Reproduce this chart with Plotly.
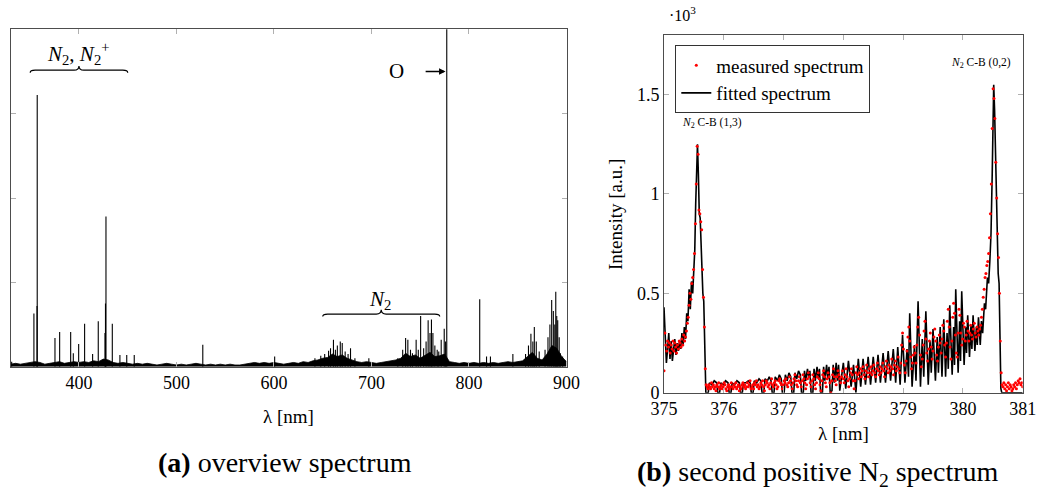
import numpy as np
import plotly.graph_objects as go

# ---- (a) overview spectrum ----
# noise floor, read every 5 nm
base_wl = list(range(330, 901, 5))
base_int = [0.03, 0.04, 0.03, 0.04, 0.05, 0.06, 0.05, 0.03, 0.04, 0.05,
            0.06, 0.04, 0.05, 0.06, 0.05, 0.06, 0.05, 0.07, 0.06, 0.09,
            0.08, 0.05, 0.04, 0.05, 0.04, 0.03, 0.04, 0.03, 0.04, 0.03,
            0.02, 0.03, 0.04, 0.03, 0.02, 0.03, 0.02, 0.03, 0.04, 0.03,
            0.02, 0.03, 0.02, 0.03, 0.02, 0.03, 0.02, 0.02, 0.03, 0.04,
            0.05, 0.04, 0.05, 0.04, 0.05, 0.04, 0.03, 0.04, 0.05, 0.04,
            0.06, 0.05, 0.07, 0.08, 0.10, 0.11, 0.15, 0.12, 0.14, 0.10,
            0.08, 0.06, 0.05, 0.06, 0.05, 0.04, 0.05, 0.06, 0.07, 0.08,
            0.10, 0.16, 0.12, 0.14, 0.10, 0.14, 0.17, 0.12, 0.13, 0.15,
            0.06, 0.05, 0.04, 0.05, 0.04, 0.05, 0.04, 0.05, 0.04, 0.05,
            0.04, 0.05, 0.06, 0.05, 0.06, 0.07, 0.12, 0.17, 0.10, 0.08,
            0.15, 0.25, 0.22, 0.12, 0.06]

# emission lines (nm) and their heights
line_wl = [331.0, 353.8, 357.0, 357.2, 375.4, 380.2, 391.5, 394.2, 399.7, 405.8,
           414.0, 419.8, 426.7, 427.2, 427.7, 434.2, 442.0, 449.0, 456.7, 527.0,
           600.7, 642.0, 648.0, 652.0, 656.0, 658.0, 661.0, 663.0, 665.0, 668.0,
           670.0, 673.0, 676.0, 678.5, 683.0, 697.3, 727.0, 732.0, 735.0, 737.3,
           740.0, 742.0, 745.8, 748.0, 750.4, 753.5, 756.0, 758.1, 760.0, 761.5,
           763.0, 765.0, 767.4, 769.0, 771.5, 774.6, 776.0, 777.2, 811.0, 818.0,
           822.0, 845.0, 858.0, 861.0, 863.5, 865.5, 867.0, 869.0, 872.0, 878.0,
           881.0, 883.0, 884.8, 886.5, 888.0, 889.0, 890.0, 891.0, 892.5, 893.7,
           896.0]
line_int = [0.06, 0.63, 0.72, 3.22, 0.34, 0.41, 0.41, 0.16, 0.27, 0.51,
            0.15, 0.54, 0.40, 0.75, 1.78, 0.51, 0.14, 0.14, 0.14, 0.26,
            0.12, 0.10, 0.13, 0.15, 0.19, 0.22, 0.32, 0.20, 0.25, 0.30,
            0.28, 0.18, 0.15, 0.22, 0.10, 0.10, 0.10, 0.20, 0.34, 0.32,
            0.20, 0.16, 0.32, 0.20, 0.60, 0.22, 0.30, 0.55, 0.40, 0.56,
            0.40, 0.25, 0.20, 0.18, 0.32, 0.45, 0.30, 10.0, 0.80, 0.12,
            0.12, 0.15, 0.15, 0.25, 0.39, 0.30, 0.47, 0.30, 0.18, 0.20,
            0.35, 0.50, 0.79, 0.66, 0.50, 0.89, 0.60, 0.55, 0.35, 0.16,
            0.12]

# braces: (start nm, end nm, height)
braces = [(350, 450, 3.515), (650, 770, 0.624)]

# ---- (b) second positive N2 ----
fit_wl = [375.000, 375.020, 375.040, 375.060, 375.080, 375.100, 375.120, 375.140, 375.160, 375.180,
          375.200, 375.220, 375.240, 375.260, 375.280, 375.300, 375.320, 375.340, 375.360, 375.380,
          375.400, 375.420, 375.440, 375.460, 375.480, 375.500, 375.515, 375.530, 375.545, 375.560,
          375.575, 375.590, 375.605, 375.620, 375.635, 375.650, 375.665, 375.680, 375.695,
          375.70, 375.74, 375.76, 375.80, 375.84, 375.88,
          375.90, 375.93, 375.95, 375.99, 376.03, 376.07,
          376.09, 376.12, 376.14, 376.18, 376.22, 376.26,
          376.28, 376.31, 376.33, 376.37, 376.41, 376.44,
          376.46, 376.49, 376.51, 376.55, 376.59, 376.62,
          376.64, 376.67, 376.69, 376.73, 376.76, 376.79,
          376.81, 376.84, 376.86, 376.90, 376.93, 376.96,
          376.98, 377.01, 377.03, 377.06, 377.09, 377.12,
          377.14, 377.17, 377.19, 377.22, 377.25, 377.28,
          377.30, 377.33, 377.35, 377.37, 377.40, 377.42, 377.44,
          377.46, 377.49, 377.51, 377.53, 377.56, 377.58, 377.60,
          377.62, 377.65, 377.67, 377.69, 377.72, 377.74, 377.76,
          377.78, 377.81, 377.83, 377.85, 377.88, 377.90, 377.92, 377.94,
          378.000, 378.040, 378.085, 378.130, 378.170, 378.210, 378.250, 378.290, 378.330, 378.370,
          378.415, 378.455, 378.500, 378.540, 378.580, 378.620, 378.665, 378.705, 378.750, 378.790,
          378.835, 378.875, 378.910, 378.950, 378.990, 379.030, 379.065, 379.090, 379.110, 379.150,
          379.190, 379.215, 379.250, 379.290, 379.320, 379.345, 379.380, 379.420, 379.450, 379.470,
          379.500, 379.540, 379.570, 379.590, 379.620, 379.650, 379.680, 379.710, 379.735, 379.755,
          379.780, 379.820, 379.845, 379.860, 379.880, 379.920, 379.945, 379.960, 379.980, 380.020,
          380.045, 380.060, 380.080, 380.110, 380.135, 380.150, 380.170, 380.200, 380.225, 380.240,
          380.260, 380.290, 380.310, 380.330, 380.360, 380.380, 380.410, 380.430, 380.450, 380.470,
          380.490, 380.505, 380.515, 380.530, 380.545, 380.560, 380.575, 380.590, 380.605, 380.620,
          380.635, 380.650, 381.000]
fit_int = [0.43, 0.30, 0.15, 0.22, 0.30, 0.17, 0.26, 0.16, 0.24, 0.27,
           0.19, 0.25, 0.21, 0.26, 0.22, 0.30, 0.24, 0.33, 0.27, 0.40,
           0.36, 0.52, 0.42, 0.56, 0.50, 0.62, 0.72, 0.95, 1.15, 1.25,
           1.10, 0.90, 0.88, 0.75, 0.55, 0.50, 0.46, 0.20, 0.00,
           0.00, 0.00, 0.05, 0.04, 0.06, 0.05,
           0.00, 0.00, 0.05, 0.04, 0.06, 0.05,
           0.00, 0.00, 0.05, 0.04, 0.06, 0.05,
           0.00, 0.00, 0.05, 0.05, 0.06, 0.05,
           0.00, 0.00, 0.06, 0.05, 0.07, 0.06,
           0.00, 0.00, 0.07, 0.06, 0.08, 0.06,
           0.00, 0.00, 0.08, 0.06, 0.09, 0.07,
           0.00, 0.00, 0.09, 0.06, 0.10, 0.08,
           0.00, 0.00, 0.10, 0.07, 0.11, 0.09,
           0.00, 0.00, 0.11, 0.06, 0.12, 0.08, 0.11,
           0.00, 0.00, 0.12, 0.06, 0.13, 0.07, 0.12,
           0.00, 0.00, 0.13, 0.06, 0.14, 0.07, 0.13,
           0.00, 0.01, 0.14, 0.05, 0.15, 0.06, 0.14, 0.01,
           0.15, 0.02, 0.16, 0.03, 0.14, 0.00, 0.17, 0.03, 0.17, 0.04,
           0.18, 0.04, 0.18, 0.05, 0.19, 0.05, 0.20, 0.05, 0.21, 0.06,
           0.22, 0.05, 0.23, 0.04, 0.29, 0.05, 0.22, 0.08, 0.40, 0.03,
           0.24, 0.06, 0.46, 0.03, 0.27, 0.08, 0.41, 0.04, 0.26, 0.10,
           0.32, 0.06, 0.28, 0.10, 0.33, 0.08, 0.37, 0.08, 0.30, 0.12,
           0.44, 0.09, 0.33, 0.14, 0.52, 0.10, 0.36, 0.16, 0.51, 0.14,
           0.33, 0.20, 0.39, 0.18, 0.34, 0.22, 0.39, 0.21, 0.33, 0.24,
           0.38, 0.24, 0.36, 0.30, 0.45, 0.42, 0.58, 0.55, 0.66, 0.80,
           1.10, 1.45, 1.55, 1.42, 1.20, 0.95, 0.80, 0.60, 0.55, 0.25,
           0.02, 0.00, 0.00]

# measured points, one every 0.015 nm starting at 375.000 nm
meas_start = 375.0
meas_step = 0.015
meas_int = [0.11, 0.30, 0.24, 0.21, 0.26, 0.23, 0.25, 0.20, 0.24, 0.22, 0.26, 0.21, 0.25, 0.23, 0.20,
            0.24, 0.22, 0.26, 0.25, 0.23, 0.27, 0.24, 0.29, 0.26, 0.28, 0.31, 0.35,
            0.38, 0.44, 0.50, 0.47, 0.55, 0.58, 0.62, 0.70, 0.85, 1.05, 1.24, 1.20, 0.92, 0.90,
            0.86, 0.82, 0.62, 0.48, 0.33, 0.12, 0.04,
            0.03, 0.02, 0.04, 0.03, 0.02, 0.05, 0.03, 0.04, 0.02, 0.03, 0.01, 0.04, 0.03, 0.05, 0.02,
            0.03, 0.04, 0.02, 0.03, 0.05, 0.04, 0.02, 0.01, 0.03, 0.04, 0.02, 0.03, 0.05, 0.03, 0.02,
            0.04, 0.03, 0.05, 0.02, 0.03, 0.04, 0.01, 0.03, 0.02, 0.04, 0.05, 0.03, 0.04, 0.02, 0.03,
            0.05, 0.03, 0.04, 0.06, 0.02, 0.03, 0.04, 0.02, 0.05, 0.04, 0.06, 0.03, 0.04, 0.02, 0.03,
            0.05, 0.04, 0.06, 0.03, 0.01, 0.04, 0.06, 0.05, 0.03, 0.04, 0.02, 0.05, 0.07, 0.04, 0.03,
            0.05, 0.06, 0.04, 0.02, 0.03, 0.06, 0.07, 0.05, 0.04, 0.02, 0.04, 0.06, 0.05, 0.07, 0.04,
            0.03, 0.05, 0.08, 0.06, 0.04, 0.02, 0.05, 0.07, 0.09, 0.06, 0.04, 0.03, 0.06, 0.08, 0.05,
            0.03, 0.06, 0.09, 0.07, 0.05, 0.02, 0.04, 0.07, 0.10, 0.08, 0.05, 0.03, 0.06, 0.09, 0.07,
            0.04, 0.02, 0.05, 0.08, 0.10, 0.07, 0.04, 0.01, 0.06, 0.09, 0.11, 0.08, 0.05, 0.03, 0.07,
            0.10, 0.08, 0.05, 0.00, 0.06, 0.09, 0.12, 0.08, 0.06, 0.04, 0.08, 0.11, 0.09, 0.07, 0.05,
            0.08, 0.11, 0.07, 0.05, 0.09, 0.12, 0.08, 0.06, 0.03, 0.07, 0.10, 0.12, 0.09, 0.06, 0.02,
            0.06, 0.10, 0.13, 0.09, 0.07, 0.10, 0.12, 0.08, 0.11, 0.13, 0.09, 0.07, 0.11, 0.14, 0.10,
            0.08, 0.12, 0.10, 0.13, 0.09, 0.11, 0.14, 0.10, 0.08, 0.12, 0.15, 0.11, 0.09, 0.13, 0.10,
            0.12, 0.15, 0.11, 0.08, 0.13, 0.16, 0.12, 0.10, 0.14, 0.11, 0.13, 0.17, 0.12, 0.09, 0.14,
            0.16, 0.11, 0.13, 0.18, 0.12, 0.10, 0.15, 0.24, 0.30,
            0.22, 0.14, 0.10, 0.16, 0.21, 0.28, 0.33, 0.26, 0.18, 0.12, 0.15, 0.19, 0.23, 0.20, 0.15,
            0.24, 0.33, 0.38, 0.29, 0.19, 0.13, 0.17, 0.24, 0.31, 0.36, 0.27, 0.20, 0.16, 0.22, 0.26,
            0.30, 0.23, 0.17, 0.21, 0.28, 0.32, 0.26, 0.19, 0.16, 0.23, 0.29, 0.25, 0.20, 0.27, 0.34,
            0.31, 0.24, 0.18, 0.25, 0.36, 0.42, 0.33, 0.23, 0.17, 0.26, 0.38, 0.45, 0.40, 0.29, 0.20,
            0.18, 0.30, 0.42, 0.39, 0.30, 0.24, 0.27, 0.35, 0.33, 0.26, 0.29, 0.36, 0.31, 0.26, 0.30,
            0.34, 0.29, 0.27, 0.32, 0.35, 0.30, 0.28, 0.33, 0.31, 0.29, 0.32, 0.34, 0.38, 0.42, 0.48,
            0.52, 0.58, 0.60, 0.64, 0.66, 0.70, 0.78, 0.90, 1.05, 1.33, 1.53, 1.48, 1.38, 1.16, 0.98,
            0.80, 0.68, 0.50, 0.26, 0.10, 0.04,
            0.03, 0.05, 0.02, 0.04, 0.01, 0.03, 0.05, 0.02, 0.04, 0.03, 0.01, 0.02, 0.04, 0.03, 0.05,
            0.02, 0.04, 0.06, 0.05, 0.07, 0.04, 0.05, 0.03]

assert len(fit_wl) == len(fit_int)
assert len(base_wl) == len(base_int)
meas_wl = meas_start + meas_step * np.arange(len(meas_int))

SERIF = "Liberation Serif"
W, H = 1037, 494

stick_x, stick_y = [], []
for w, h in zip(line_wl, line_int):
    stick_x += [w, w, None]
    stick_y += [0, h, None]

fig = go.Figure()
fig.add_trace(go.Scatter(x=base_wl, y=base_int, mode="lines", fill="tozeroy",
                         fillcolor="black", line=dict(color="black", width=0.8),
                         showlegend=False, xaxis="x", yaxis="y"))
fig.add_trace(go.Scatter(x=stick_x, y=stick_y, mode="lines",
                         line=dict(color="black", width=1.1),
                         showlegend=False, xaxis="x", yaxis="y"))
fig.add_trace(go.Scatter(x=fit_wl, y=fit_int, mode="lines", name="fitted spectrum",
                         line=dict(color="black", width=1.6), xaxis="x2", yaxis="y2"))
fig.add_trace(go.Scatter(x=meas_wl, y=meas_int, mode="markers", name="measured spectrum",
                         marker=dict(color="#ff0000", size=3), xaxis="x2", yaxis="y2"))

axis_style = dict(showline=True, linecolor="#4d4d4d", linewidth=1, mirror="ticks",
                  ticks="inside", ticklen=5, tickcolor="#b0b0b0", tickwidth=1,
                  showgrid=False, zeroline=False, automargin=False,
                  tickfont=dict(size=18, family=SERIF, color="black"))

def px(x):
    return x / W

def py(y):
    return 1 - y / H

fig.update_layout(
    width=W, height=H, margin=dict(l=0, r=0, t=0, b=0, autoexpand=False),
    paper_bgcolor="white", plot_bgcolor="white",
    font=dict(family=SERIF, color="black", size=18),
    xaxis=dict(axis_style, domain=[px(10.7), px(566.5)], range=[330, 900],
               tick0=0, dtick=100, anchor="y"),
    yaxis=dict(axis_style, domain=[py(366.7), py(29.3)], range=[0, 4],
               dtick=1, showticklabels=False, anchor="x"),
    xaxis2=dict(axis_style, domain=[px(664), px(1022.7)], range=[375, 381],
                dtick=1, anchor="y2"),
    yaxis2=dict(axis_style, domain=[py(392.7), py(35)], range=[0, 1.8],
                tickvals=[0, 0.5, 1, 1.5], anchor="x2"),
    legend=dict(x=px(675.3), y=py(45.3), xanchor="left", yanchor="top",
                bgcolor="white", bordercolor="#333333", borderwidth=1,
                font=dict(size=19, family=SERIF), traceorder="reversed"),
)

# curly braces over the line groups
for x0, x1, y in braces:
    xm = (x0 + x1) / 2
    r, dn, up = 5, 0.03, 0.05
    path = (f"M {x0},{y - dn} Q {x0},{y} {x0 + r},{y} L {xm - r},{y} "
            f"Q {xm},{y} {xm},{y + up} Q {xm},{y} {xm + r},{y} "
            f"L {x1 - r},{y} Q {x1},{y} {x1},{y - dn}")
    fig.add_shape(type="path", path=path, xref="x", yref="y",
                  line=dict(color="black", width=1.2))

ann = []
def add(text, x, y, size, xref="paper", yref="paper", angle=0):
    ann.append(dict(text=text, x=x, y=y, xref=xref, yref=yref, showarrow=False,
                    xanchor="center", yanchor="middle", textangle=angle,
                    font=dict(size=size, family=SERIF, color="black")))

add("<i>N</i><sub>2</sub>, <i>N</i><sub>2</sub><sup>+</sup>", 400, 3.71, 21, "x", "y")
add("<i>N</i><sub>2</sub>", 709, 0.79, 21, "x", "y")
add("O", 726, 3.5, 21, "x", "y")
add("<i>N</i><sub>2</sub> C-B (1,3)", 375.8, 1.355, 11.5, "x2", "y2")
add("<i>N</i><sub>2</sub> C-B (0,2)", 380.3, 1.657, 11.5, "x2", "y2")
add("λ [nm]", px(288.6), py(416), 19)
add("λ [nm]", px(843), py(433), 19)
add("Intensity [a.u.]", px(615), py(215), 19, angle=-90)
add("·10<sup>3</sup>", px(682), py(14), 16)
add("<b>(a)</b> overview spectrum", px(285), py(462), 28)
add("<b>(b)</b> second positive N<sub>2</sub> spectrum", px(818), py(473), 28)
# arrow pointing at the O line
ann.append(dict(x=776, y=3.5, ax=754, ay=3.5, xref="x", yref="y", axref="x", ayref="y",
                text="", showarrow=True, arrowhead=2, arrowsize=1, arrowwidth=1.3,
                arrowcolor="black"))
fig.update_layout(annotations=ann)

fig.write_html("out.html", config={"displayModeBar": False},
               post_script="document.body.style.margin='0px';")
